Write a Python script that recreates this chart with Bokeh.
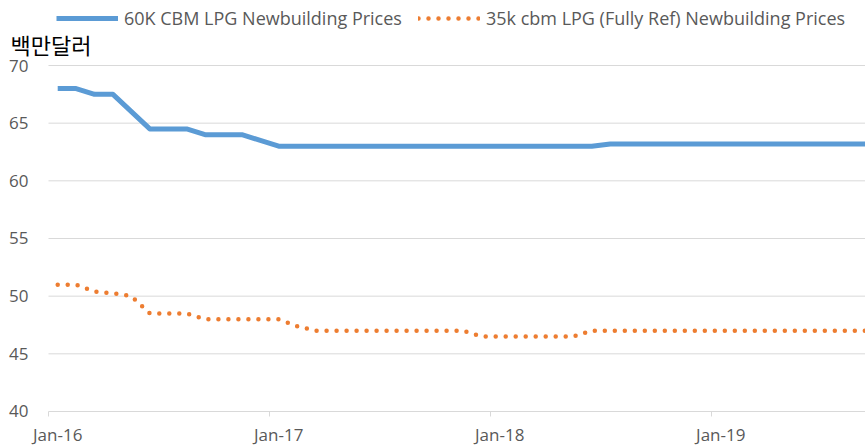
from bokeh.plotting import figure
from bokeh.models import Legend, LegendItem, Label, ColumnDataSource, Range1d
from bokeh.core.properties import value
from bokeh.embed import file_html
from bokeh.resources import INLINE

# Monthly observations, Jan-2016 .. Sep-2019
months = [
    "Jan-16", "Feb-16", "Mar-16", "Apr-16", "May-16", "Jun-16", "Jul-16", "Aug-16", "Sep-16", "Oct-16", "Nov-16", "Dec-16",
    "Jan-17", "Feb-17", "Mar-17", "Apr-17", "May-17", "Jun-17", "Jul-17", "Aug-17", "Sep-17", "Oct-17", "Nov-17", "Dec-17",
    "Jan-18", "Feb-18", "Mar-18", "Apr-18", "May-18", "Jun-18", "Jul-18", "Aug-18", "Sep-18", "Oct-18", "Nov-18", "Dec-18",
    "Jan-19", "Feb-19", "Mar-19", "Apr-19", "May-19", "Jun-19", "Jul-19", "Aug-19", "Sep-19",
]
lpg60k = [
    68.0, 68.0, 67.5, 67.5, 66.0, 64.5, 64.5, 64.5, 64.0, 64.0, 64.0, 63.5,
    63.0, 63.0, 63.0, 63.0, 63.0, 63.0, 63.0, 63.0, 63.0, 63.0, 63.0, 63.0,
    63.0, 63.0, 63.0, 63.0, 63.0, 63.0, 63.2, 63.2, 63.2, 63.2, 63.2, 63.2,
    63.2, 63.2, 63.2, 63.2, 63.2, 63.2, 63.2, 63.2, 63.2,
]
lpg35k = [
    51.0, 51.0, 50.4, 50.25, 50.0, 48.5, 48.5, 48.5, 48.0, 48.0, 48.0, 48.0,
    48.0, 47.4, 47.0, 47.0, 47.0, 47.0, 47.0, 47.0, 47.0, 47.0, 47.0, 46.5,
    46.5, 46.5, 46.5, 46.5, 46.5, 47.0, 47.0, 47.0, 47.0, 47.0, 47.0, 47.0,
    47.0, 47.0, 47.0, 47.0, 47.0, 47.0, 47.0, 47.0, 47.0,
]
tick_labels = ["Jan-16", "Jan-17", "Jan-18", "Jan-19"]
y_ticks = [40, 45, 50, 55, 60, 65, 70]
series_names = ["60K CBM LPG Newbuilding Prices", "35k cbm LPG (Fully Ref) Newbuilding Prices"]
unit_label = "백만달러"

# month slot centre positions (Excel date axis: point sits mid-month)
xpos = [months.index(m) + 0.5 for m in months]
tick_pos = [months.index(t) for t in tick_labels]          # slot boundaries (tick marks)
label_pos = [months.index(t) + 0.5 for t in tick_labels]   # slot centres (labels)

TXT = "#595959"
GRID = "#d9d9d9"
FONT = "Open Sans"
W, H = 865, 447

# plot area: x from Jan-16 boundary (48px) to right edge; y 40..70 spans 411px..65px
X0, X1 = -2.606, 44.36
Y0, Y1 = 36.878, 75.636
X_END = X1

src = ColumnDataSource(dict(x=xpos, a=lpg60k, b=lpg35k))

p = figure(width=W, height=H, output_backend="svg", toolbar_location=None,
           x_range=Range1d(X0, X1), y_range=Range1d(Y0, Y1),
           min_border_left=0, min_border_right=0, min_border_top=0, min_border_bottom=0)
p.outline_line_color = None
p.background_fill_color = "white"
p.border_fill_color = "white"
p.axis.visible = False
p.grid.visible = False

# horizontal gridlines (the 40 line doubles as the category axis line)
p.segment(x0=[0] * len(y_ticks), x1=[X_END] * len(y_ticks), y0=y_ticks, y1=y_ticks,
          line_color=GRID, line_width=1)
# value-axis labels
p.text(x=[0] * len(y_ticks), y=y_ticks, text=[str(v) for v in y_ticks], x_offset=-20,
       text_align="right", text_baseline="middle", text_font=value(FONT),
       text_font_size="17px", text_color=TXT)
# category-axis tick marks (5px below the axis line) and labels
p.segment(x0=tick_pos, x1=tick_pos, y0=[y_ticks[0]] * len(tick_pos),
          y1=[y_ticks[0] - 5 / 11.533] * len(tick_pos), line_color=GRID, line_width=1)
p.text(x=label_pos, y=[y_ticks[0]] * len(label_pos), text=tick_labels, y_offset=23,
       text_align="center", text_baseline="middle", text_font=value(FONT),
       text_font_size="17px", text_color=TXT)

r1 = p.line("x", "a", source=src, line_color="#5B9BD5", line_width=5, line_join="round")
r2 = p.line("x", "b", source=src, line_color="#ED7D31", line_width=4.5, line_dash="0 10", line_cap="round")

legend = Legend(items=[LegendItem(label=series_names[0], renderers=[r1]),
                       LegendItem(label=series_names[1], renderers=[r2])],
                orientation="horizontal", location=(56, H - 30))
legend.border_line_color = None
legend.background_fill_alpha = 0
legend.padding = 0
legend.margin = 0
legend.spacing = 16
legend.glyph_width = 62
legend.glyph_height = 20
legend.label_standoff = 6
legend.label_text_font = FONT
legend.label_text_font_size = "18px"
legend.label_text_color = TXT
p.add_layout(legend)

p.add_layout(Label(x=10, y=H - 43, x_units="screen", y_units="screen", text=unit_label,
                   text_font="Noto Sans CJK KR", text_font_size="22px", text_color="#000000",
                   text_baseline="middle"))

open("out.html", "w").write(file_html(p, INLINE))
